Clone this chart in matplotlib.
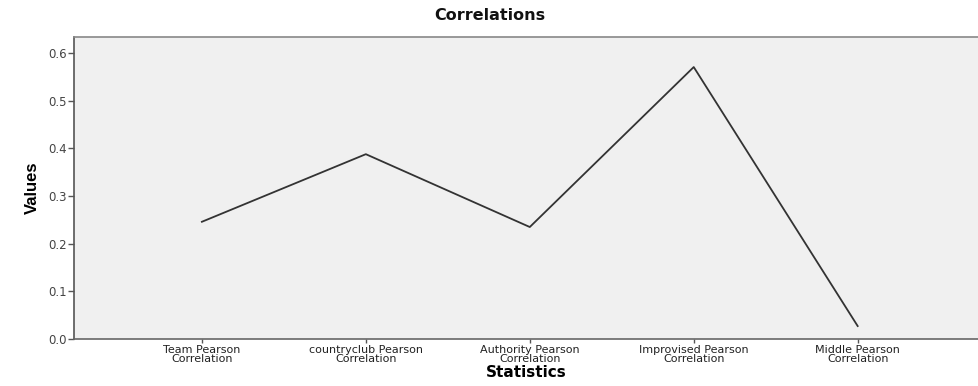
import matplotlib
matplotlib.use("Agg")
import matplotlib.pyplot as plt

categories = ["Team Pearson\nCorrelation", "countryclub Pearson\nCorrelation",
              "Authority Pearson\nCorrelation", "Improvised Pearson\nCorrelation",
              "Middle Pearson\nCorrelation"]
values = [0.246, 0.388, 0.235, 0.571, 0.027]
yticks = [0.0, 0.1, 0.2, 0.3, 0.4, 0.5, 0.6]

plt.rcParams['font.family'] = ['DejaVu Sans']

fig = plt.figure(figsize=(9.79, 3.86), dpi=100)
ax = fig.add_axes([0.0756, 0.122, 0.9244, 0.782])
ax.set_facecolor("#f0f0f0")

x = list(range(len(categories)))
ax.plot(x, values, color="#333333", linewidth=1.3)

ax.set_xlim(-0.78, 4.74)
ax.set_ylim(0, 0.634)
ax.set_xticks(x)
ax.set_xticklabels(categories, fontsize=8, color="#222222", linespacing=0.85)
ax.set_yticks(yticks)
ax.set_yticklabels([f"{v:.1f}" for v in yticks], fontsize=8.5, color="#444444")
ax.tick_params(axis="both", length=4, width=1, color="#555555", pad=1)
ax.tick_params(axis="x", length=3, pad=1.5)

for s in ax.spines.values():
    s.set_color("#888888")
    s.set_linewidth(1.2)
ax.spines["left"].set_color("#555555")
ax.spines["bottom"].set_color("#666666")

fig.text(0.5, 0.96, "Correlations", fontsize=11.5, fontweight="bold",
         ha="center", va="center", color="#111111")
ax.set_xlabel("Statistics", fontsize=11, fontweight="bold", labelpad=1)
ax.set_ylabel("Values", fontsize=12, fontweight="bold", labelpad=6,
              family=["Liberation Sans Narrow", "Liberation Sans"])

fig.savefig("out.png", dpi=100)
